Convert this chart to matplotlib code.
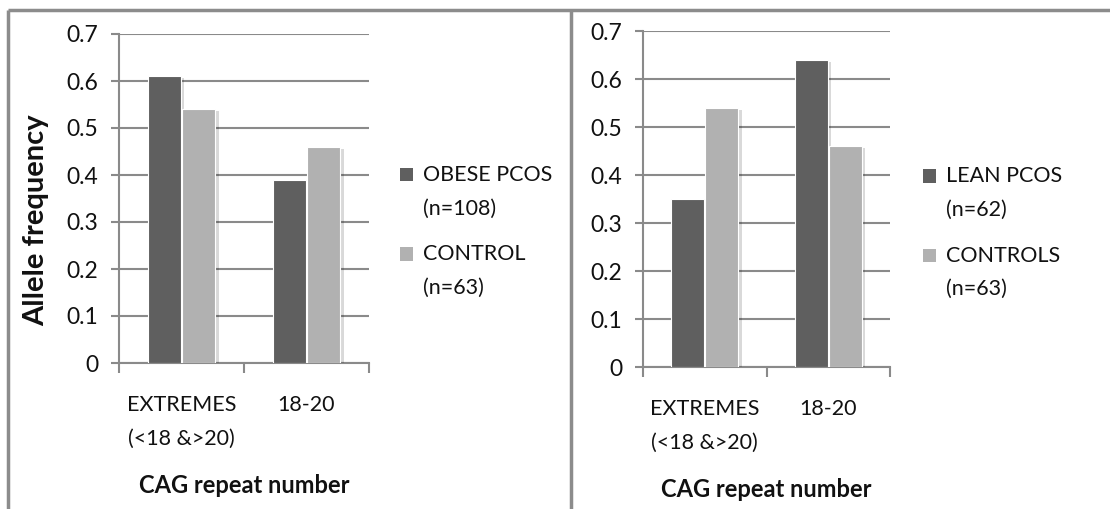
import numpy as np
import matplotlib
matplotlib.use("Agg")
from matplotlib import pyplot as plt
from matplotlib import patheffects as pe
from matplotlib.lines import Line2D
from matplotlib.patches import Patch, Rectangle
from matplotlib.legend_handler import HandlerPatch

# allele frequency by CAG repeat group
categories = ["EXTREMES\n(<18 &>20)", "18-20"]
obese_pcos = [0.61, 0.39]
obese_controls = [0.54, 0.46]
lean_pcos = [0.35, 0.64]
lean_controls = [0.54, 0.46]

left_labels = ["OBESE PCOS\n(n=108)", "CONTROL\n(n=63)"]
right_labels = ["LEAN PCOS\n(n=62)", "CONTROLS\n(n=63)"]
yticks = [0, 0.1, 0.2, 0.3, 0.4, 0.5, 0.6, 0.7]

DARK = "#5f5f5f"
LIGHT = "#b1b1b1"
GRID = "#8a8a8a"
TXT = "#111111"

plt.rcParams['font.family'] = ['Lato', 'DejaVu Sans']

fig = plt.figure(figsize=(11.1, 5.09), dpi=100, facecolor='white')

# frame around both panels
frame_kw = dict(color="#8c8c8c", lw=2.5, transform=fig.transFigure, solid_capstyle='butt')
fig.add_artist(Line2D([8 / 1110, 1.0], [1 - 10 / 509] * 2, **frame_kw))
fig.add_artist(Line2D([8 / 1110] * 2, [0, 1 - 10 / 509], **frame_kw))
fig.add_artist(Line2D([571 / 1110] * 2, [0, 1 - 10 / 509], **frame_kw))


def top_square(legend, orig_handle, xdescent, ydescent, width, height, fontsize):
    # small square level with the first line of a two-line label
    s = 0.62 * fontsize
    return Rectangle((-xdescent, 0.85 * fontsize), s, s)


def panel(rect, first, second, labels, leg_x, leg_y):
    ax = fig.add_axes(rect)
    x = np.arange(len(categories)) + 0.5
    w = 0.265
    shadow = [pe.SimplePatchShadow(offset=(2.5, -1.5), shadow_rgbFace='#000000', alpha=0.15),
              pe.Normal()]
    b1 = ax.bar(x - w / 2 - 0.006, first, w, color=DARK, edgecolor='white', lw=0.8, zorder=3)
    b2 = ax.bar(x + w / 2 + 0.006, second, w, color=LIGHT, edgecolor='white', lw=0.8, zorder=3)
    for b in list(b1) + list(b2):
        b.set_path_effects(shadow)
    ax.set_xlim(0, 2)
    ax.set_ylim(0, 0.7)
    ax.set_yticks(yticks)
    ax.set_yticklabels([f"{t:g}" for t in yticks], fontsize=16.5, color=TXT)
    ax.set_xticks([0, 1, 2])
    ax.set_xticklabels([])
    ax.set_xticks(x, minor=True)
    ax.set_xticklabels(categories, minor=True, fontsize=15.5, color=TXT, linespacing=1.85)
    ax.tick_params(axis='x', which='minor', length=0, pad=23)
    ax.tick_params(axis='x', which='major', length=7, width=1.5, color=GRID, direction='out')
    ax.tick_params(axis='y', length=6, width=1.5, color=GRID, pad=9)
    ax.yaxis.grid(True, color=GRID, lw=1.5, zorder=0)
    ax.set_axisbelow(True)
    for s in ['top', 'right']:
        ax.spines[s].set_visible(False)
    for s in ['left', 'bottom']:
        ax.spines[s].set_color(GRID)
        ax.spines[s].set_linewidth(1.5)
    ax.set_xlabel("CAG repeat number", fontsize=17, fontweight='bold', color=TXT, labelpad=18)
    handles = [Patch(facecolor=DARK), Patch(facecolor=LIGHT)]
    leg = ax.legend(handles, labels, loc='center left', bbox_to_anchor=(leg_x, leg_y),
                    frameon=False, fontsize=15.5, handlelength=0.62, handleheight=2.4,
                    handletextpad=0.45, labelspacing=1.2,
                    handler_map={Patch: HandlerPatch(patch_func=top_square)})
    for t in leg.get_texts():
        t.set_color(TXT)
        t.set_linespacing(1.85)
    return ax


ax1 = panel([119 / 1110, 1 - 363 / 509, 250 / 1110, 329 / 509], obese_pcos, obese_controls,
            left_labels, 1.045, 0.40)
ax1.set_ylabel("Allele frequency", fontsize=21, fontweight='bold', color=TXT)
ax1.yaxis.set_label_coords(-0.278, 0.435)
ax2 = panel([643 / 1110, 1 - 367 / 509, 247 / 1110, 336 / 509], lean_pcos, lean_controls,
            right_labels, 1.055, 0.40)

plt.savefig("out.png", dpi=100, facecolor='white')
